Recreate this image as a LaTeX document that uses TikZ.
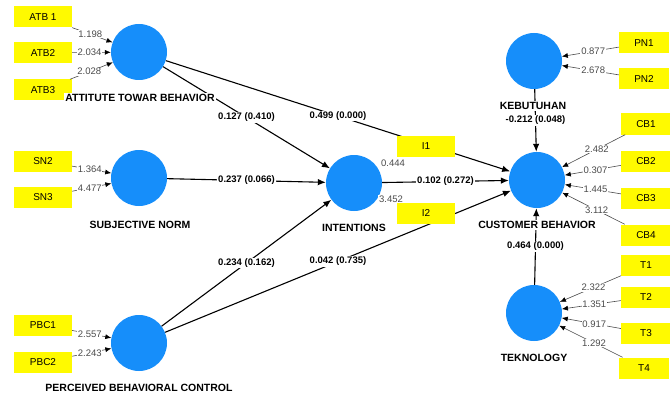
\documentclass[tikz,border=0pt]{standalone}
\usepackage{fontspec}
\setmainfont{Liberation Sans}
\usetikzlibrary{arrows.meta}
\definecolor{lvblue}{RGB}{22,142,250}
\definecolor{mvyellow}{RGB}{255,250,0}
\definecolor{loadgray}{RGB}{75,75,75}
\tikzset{
    latent/.style={circle, fill=lvblue, minimum size=56pt, inner sep=0pt},
    manifest/.style={rectangle, fill=mvyellow, minimum width=58pt, minimum height=21pt, inner sep=0pt, font=\fontsize{10}{11}\selectfont},
    rmanifest/.style={manifest, minimum width=50pt},
    lvname/.style={fill=white, inner sep=1pt, font=\bfseries\fontsize{10.5}{12}\selectfont},
    coefpath/.style={-{Latex[length=8pt,width=6.5pt]}, line width=1.1pt},
    coeflabel/.style={fill=white, inner sep=1pt, font=\bfseries\fontsize{9.5}{11}\selectfont},
    loadpath/.style={-{Latex[length=6pt,width=5pt,color=black]}, draw=loadgray, line width=0.6pt},
    loadlabel/.style={fill=white, inner sep=0.8pt, text=loadgray, font=\fontsize{9.5}{11}\selectfont},
}
\begin{document}
\begin{tikzpicture}[x=1pt, y=-1pt]
    \useasboundingbox (0,0) rectangle (670,396);
    % 潜变量
    \node[latent] (atb) at (139,52) {};
    \node[latent] (sn)  at (139,178) {};
    \node[latent] (pbc) at (139,343) {};
    \node[latent] (int) at (354,183) {};
    \node[latent] (keb) at (534,61) {};
    \node[latent] (cb)  at (537,180) {};
    \node[latent] (tek) at (534,313) {};
    % 结构路径
    \draw[coefpath] (atb) -- (int) node[coeflabel, pos=0.5] {0.127 (0.410)};
    \draw[coefpath] (atb) -- (cb)  node[coeflabel, pos=0.5] {0.499 (0.000)};
    \draw[coefpath] (sn)  -- (int) node[coeflabel, pos=0.5] {0.237 (0.066)};
    \draw[coefpath] (pbc) -- (int) node[coeflabel, pos=0.5] {0.234 (0.162)};
    \draw[coefpath] (pbc) -- (cb)  node[coeflabel, pos=0.5] {0.042 (0.735)};
    \draw[coefpath] (int) -- (cb)  node[coeflabel, pos=0.5] {0.102 (0.272)};
    \draw[coefpath] (keb) -- (cb)  node[coeflabel, pos=0.5] {-0.212 (0.048)};
    \draw[coefpath] (tek) -- (cb)  node[coeflabel, pos=0.5] {0.464 (0.000)};
    % 指标
    \node[manifest] (atb1) at (43,17) {ATB 1};
    \node[manifest] (atb2) at (43,53) {ATB2};
    \node[manifest] (atb3) at (43,90) {ATB3};
    \node[manifest] (sn2) at (43,161) {SN2};
    \node[manifest] (sn3) at (43,197) {SN3};
    \node[manifest] (pbc1) at (43,325) {PBC1};
    \node[manifest] (pbc2) at (43,362) {PBC2};
    \node[manifest] (i1) at (426,146) {I1};
    \node[manifest] (i2) at (426,213) {I2};
    \node[rmanifest] (pn1) at (644,43) {PN1};
    \node[rmanifest] (pn2) at (644,79) {PN2};
    \node[rmanifest] (cb1) at (646,124) {CB1};
    \node[rmanifest] (cb2) at (646,161) {CB2};
    \node[rmanifest] (cb3) at (646,198) {CB3};
    \node[rmanifest] (cb4) at (646,235) {CB4};
    \node[rmanifest] (t1) at (646,265) {T1};
    \node[rmanifest] (t2) at (646,297) {T2};
    \node[rmanifest] (t3) at (646,333) {T3};
    \node[rmanifest] (t4) at (644,368) {T4};
    % 载荷
    \draw[loadpath] (atb1) -- (atb) node[loadlabel, pos=0.45] {1.198};
    \draw[loadpath] (atb2) -- (atb) node[loadlabel, pos=0.45] {2.034};
    \draw[loadpath] (atb3) -- (atb) node[loadlabel, pos=0.45] {2.028};
    \draw[loadpath] (sn2) -- (sn) node[loadlabel, pos=0.45] {1.364};
    \draw[loadpath] (sn3) -- (sn) node[loadlabel, pos=0.45] {4.477};
    \draw[loadpath] (pbc1) -- (pbc) node[loadlabel, pos=0.45] {2.557};
    \draw[loadpath] (pbc2) -- (pbc) node[loadlabel, pos=0.45] {2.243};
    \draw[loadpath] (pn1) -- (keb) node[loadlabel, pos=0.45] {0.877};
    \draw[loadpath] (pn2) -- (keb) node[loadlabel, pos=0.45] {2.678};
    \draw[loadpath] (cb1) -- (cb) node[loadlabel, pos=0.45] {2.482};
    \draw[loadpath] (cb2) -- (cb) node[loadlabel, pos=0.45] {0.307};
    \draw[loadpath] (cb3) -- (cb) node[loadlabel, pos=0.45] {1.445};
    \draw[loadpath] (cb4) -- (cb) node[loadlabel, pos=0.45] {3.112};
    \draw[loadpath] (t1) -- (tek) node[loadlabel, pos=0.45] {2.322};
    \draw[loadpath] (t2) -- (tek) node[loadlabel, pos=0.45] {1.351};
    \draw[loadpath] (t3) -- (tek) node[loadlabel, pos=0.45] {0.917};
    \draw[loadpath] (t4) -- (tek) node[loadlabel, pos=0.45] {1.292};
    \node[loadlabel] (l444) at (393,163) {0.444};
    \node[loadlabel] (l3452) at (391,199) {3.452};
    % 变量名称
    \node[lvname] (atbname) at (140,98) {ATTITUTE TOWAR BEHAVIOR};
    \node[lvname] (snname)  at (140,225) {SUBJECTIVE NORM};
    \node[lvname] (pbcname) at (139,388) {PERCEIVED BEHAVIORAL CONTROL};
    \node[lvname] (intname) at (354,228) {INTENTIONS};
    \node[lvname] (kebname) at (533,106) {KEBUTUHAN};
    \node[lvname] (cbname)  at (537,225) {CUSTOMER BEHAVIOR};
    \node[lvname] (tekname) at (534,358) {TEKNOLOGY};
\end{tikzpicture}
\end{document}
